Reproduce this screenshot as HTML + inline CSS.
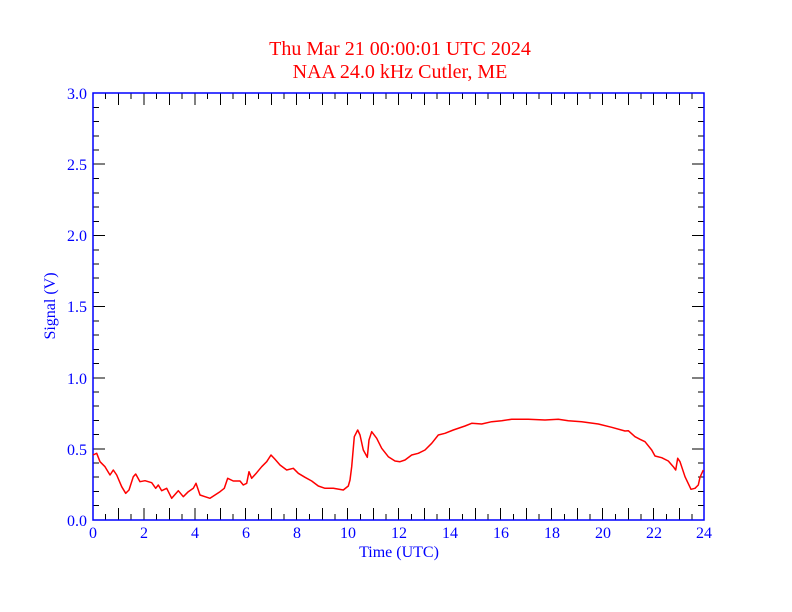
<!DOCTYPE html>
<html><head><meta charset="utf-8"><style>body{margin:0;background:#fff}svg{display:block}text{font-family:"Liberation Serif",serif}</style></head><body>
<svg width="792" height="612" xmlns="http://www.w3.org/2000/svg">
<rect width="792" height="612" fill="#fff"/>
<text x="400" y="55" fill="#f00" font-size="20" text-anchor="middle" style="font-family:'Liberation Serif',serif">Thu Mar 21 00:00:01 UTC 2024</text>
<text x="400" y="78" fill="#f00" font-size="20" text-anchor="middle" style="font-family:'Liberation Serif',serif">NAA 24.0 kHz Cutler, ME</text>
<g stroke="#000" stroke-width="1">
<path d="
M118.5,520v-12M169.5,520v-12M220.5,520v-12M271.5,520v-12M322.5,520v-12M373.5,520v-12M424.5,520v-12M475.5,520v-12M526.5,520v-12M577.5,520v-12M628.5,520v-12M679.5,520v-12
M144,520v-12M195,520v-12M245.5,520v-12M296.5,520v-12M347.5,520v-12M398.5,520v-12M449.5,520v-12M500.5,520v-12M551.5,520v-12M602.5,520v-12M653.5,520v-12
M105.5,520v-6M131,520v-6M156.5,520v-6M182,520v-6M207.5,520v-6M233,520v-6M258.5,520v-6M284,520v-6M309.5,520v-6M335,520v-6M360.5,520v-6M386,520v-6M411.5,520v-6M437,520v-6M462.5,520v-6M488,520v-6M513.5,520v-6M539,520v-6M564.5,520v-6M590,520v-6M615.5,520v-6M641,520v-6M666.5,520v-6M692,520v-6
M118.5,93v12M169.5,93v12M220.5,93v12M271.5,93v12M322.5,93v12M373.5,93v12M424.5,93v12M475.5,93v12M526.5,93v12M577.5,93v12M628.5,93v12M679.5,93v12
M144,93v12M195,93v12M245.5,93v12M296.5,93v12M347.5,93v12M398.5,93v12M449.5,93v12M500.5,93v12M551.5,93v12M602.5,93v12M653.5,93v12
M105.5,93v6M131,93v6M156.5,93v6M182,93v6M207.5,93v6M233,93v6M258.5,93v6M284,93v6M309.5,93v6M335,93v6M360.5,93v6M386,93v6M411.5,93v6M437,93v6M462.5,93v6M488,93v6M513.5,93v6M539,93v6M564.5,93v6M590,93v6M615.5,93v6M641,93v6M666.5,93v6M692,93v6
M93,449h12M93,378h12M93,306.5h12M93,235.5h12M93,164h12
M704,449h-12M704,378h-12M704,306.5h-12M704,235.5h-12M704,164h-12
M93,505.5h6M93,491.5h6M93,477h6M93,463h6M93,434.5h6M93,420.5h6M93,406h6M93,392h6M93,363.5h6M93,349.5h6M93,335h6M93,321h6M93,292.5h6M93,278h6M93,264h6M93,250h6M93,221.5h6M93,207h6M93,193h6M93,178.5h6M93,150h6M93,136h6M93,121.5h6M93,107.5h6
M704,505.5h-6M704,491.5h-6M704,477h-6M704,463h-6M704,434.5h-6M704,420.5h-6M704,406h-6M704,392h-6M704,363.5h-6M704,349.5h-6M704,335h-6M704,321h-6M704,292.5h-6M704,278h-6M704,264h-6M704,250h-6M704,221.5h-6M704,207h-6M704,193h-6M704,178.5h-6M704,150h-6M704,136h-6M704,121.5h-6M704,107.5h-6"/>
</g>
<rect x="93" y="93" width="611" height="427" fill="none" stroke="#00f" stroke-width="1.5"/>
<g fill="#00f" font-size="16" text-anchor="middle">
<text x="93" y="538">0</text><text x="144" y="538">2</text><text x="195" y="538">4</text><text x="246" y="538">6</text><text x="297" y="538">8</text><text x="348" y="538">10</text><text x="399" y="538">12</text><text x="450" y="538">14</text><text x="501" y="538">16</text><text x="552" y="538">18</text><text x="603" y="538">20</text><text x="654" y="538">22</text><text x="704" y="538">24</text>
<text x="399" y="557">Time (UTC)</text>
</g>
<g fill="#00f" font-size="16" text-anchor="end">
<text x="87" y="526">0.0</text><text x="87" y="455">0.5</text><text x="87" y="384">1.0</text><text x="87" y="312">1.5</text><text x="87" y="241">2.0</text><text x="87" y="170">2.5</text><text x="87" y="99">3.0</text>
</g>
<text transform="translate(55,306) rotate(-90)" fill="#00f" font-size="16" text-anchor="middle">Signal (V)</text>
<polyline fill="none" stroke="#f00" stroke-width="1.5" stroke-linejoin="round" points="
93,455 96.7,453.3 100,461.7 105,466.7 110,475 113.3,470 116.7,475 121.7,486.7 125.7,493.3 129,490 133.3,476.7 135.7,474 140,481.7 145,480.7 151.7,482.7 155.7,488.3 158.3,485 161.7,490.7 166.7,488.3 171.7,498.3 178.3,490.7 183.3,496.7 188.3,491.7 193.3,488.3 196,483.3 200,495 205,496.7 210,498.3 215,495 220,491.7 224.3,488.3 227.7,478.3 233.3,481 240,481 243.3,485 246.7,483.3 249,471.7 251.7,478.3 256.7,472.7 261.7,466.7 266.7,461.7 271,455 275,459.3 280,465 286.7,470 293.3,468.3 298.3,473.3 305,477.3 311.7,481 318.3,486 325,488.3 333.3,488.3 343.3,490 348.3,486 350,480 351.7,466.7 354.3,436.7 357.7,430 360,435 363.3,450 367.3,457.3 369,440 371.7,431.7 376.7,438.3 381.7,448.3 388.3,456.7 395,461 400,461.7 405,460 411.7,455 418.3,453.3 425,450 431.7,443.3 438.3,435 445,433.3 453.3,430 465,426 471.7,423.3 481.7,424 491.7,421.7 501.7,420.7 511.7,419.3 528.3,419.3 545,420 558.3,419.3 568.3,420.7 581.7,421.7 598.3,424 611.7,427.3 625,431 628.3,430.7 635,436.7 640,439.3 645,441.7 651.7,450 655,456 661.7,457.7 668.3,461 673.3,466.7 675.7,470 677.7,458.3 680,461.7 685,476.7 691,489.3 695,488.3 698.3,485 700,477.3 703.3,470"/>
</svg>
</body></html>
